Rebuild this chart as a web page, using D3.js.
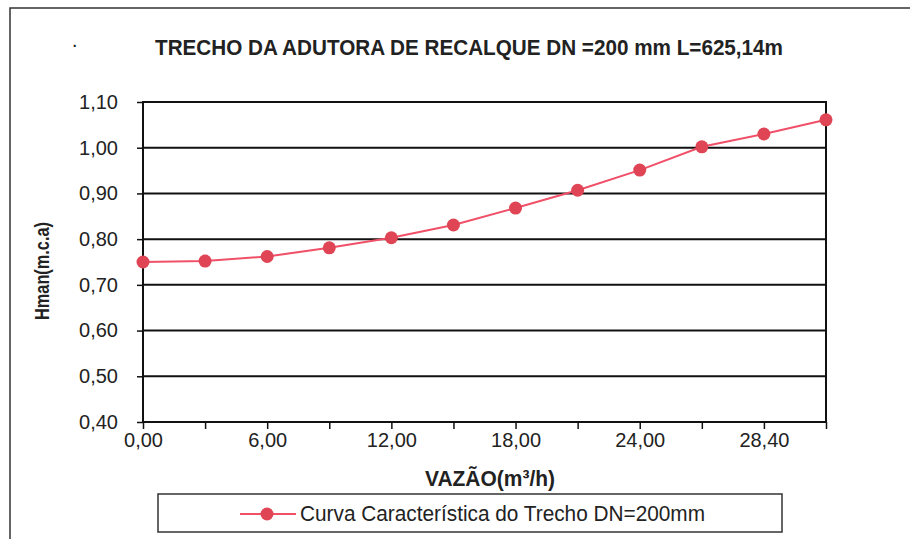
<!DOCTYPE html>
<html>
<head>
  <meta charset="UTF-8">
  <style>
    body { margin: 0; background: #fff; }
    svg { display: block; }
    text { font-family: "Liberation Sans", Arial, sans-serif; fill: #222; }
    .narrow { font-family: "Liberation Sans Narrow", "Arial Narrow", "Liberation Sans", sans-serif; }
  </style>
</head>
<body>
<svg></svg>
<script src="https://d3js.org/d3.v7.min.js"></script>
<script>

// data
let vazao = ["0,00", "3,00", "6,00", "9,00", "12,00", "15,00", "18,00", "21,00", "24,00", "26,20", "28,40", "30,60"];
let hman = [0.750, 0.752, 0.762, 0.781, 0.803, 0.831, 0.868, 0.907, 0.951, 1.002, 1.030, 1.061];
let yTicks = [0.4, 0.5, 0.6, 0.7, 0.8, 0.9, 1.0, 1.1];
let shownLabels = ["0,00", "6,00", "12,00", "18,00", "24,00", "28,40"];

let width = 910, height = 539;
let margin = {left: 143, right: 84, top: 102, bottom: 117};

let svg = d3.select("svg")
    .attr("width", width)
    .attr("height", height);

// outer frame (left and top edges visible)
svg.append("path")
    .attr("d", "M10,539 L10,8 L910,8")
    .attr("fill", "none")
    .attr("stroke", "#333")
    .attr("stroke-width", 1.5);

let x = d3.scalePoint()
    .domain(vazao)
    .range([margin.left, width - margin.right]);

let y = d3.scaleLinear()
    .domain([0.4, 1.1])
    .range([height - margin.bottom, margin.top]);

let fmt = d => d.toFixed(2).replace(".", ",");

// gridlines
svg.append("g")
    .selectAll("line")
    .data(yTicks)
    .enter()
    .append("line")
    .attr("x1", margin.left)
    .attr("x2", width - margin.right)
    .attr("y1", d => y(d))
    .attr("y2", d => y(d))
    .attr("stroke", "#111")
    .attr("stroke-width", 2);

// plot frame
svg.append("rect")
    .attr("x", margin.left)
    .attr("y", margin.top)
    .attr("width", width - margin.right - margin.left)
    .attr("height", height - margin.bottom - margin.top)
    .attr("fill", "none")
    .attr("stroke", "#111")
    .attr("stroke-width", 2);

// y axis
let yAxis = svg.append("g")
    .attr("transform", "translate(" + margin.left + ",0)")
    .call(d3.axisLeft(y).tickValues(yTicks).tickFormat(fmt).tickSize(6).tickPadding(19));
yAxis.select(".domain").remove();
yAxis.selectAll("line").attr("stroke", "#111").attr("stroke-width", 1.5);
yAxis.selectAll("text")
    .style("font-size", "20px")
    .style("font-family", "'Liberation Sans', Arial, sans-serif")
    .attr("fill", "#222");

// x axis
let xAxis = svg.append("g")
    .attr("transform", "translate(0," + (height - margin.bottom) + ")")
    .call(d3.axisBottom(x).tickSize(7).tickPadding(4)
      .tickFormat(d => shownLabels.includes(d) ? d : ""));
xAxis.select(".domain").remove();
xAxis.selectAll("line").attr("stroke", "#111").attr("stroke-width", 1.5);
xAxis.selectAll("text")
    .style("font-size", "20px")
    .style("font-family", "'Liberation Sans', Arial, sans-serif")
    .attr("fill", "#222");

// series
let pts = vazao.map((v, i) => ({v: v, h: hman[i]}));
let line = d3.line().x(d => x(d.v)).y(d => y(d.h));

svg.append("path")
    .datum(pts)
    .attr("d", line)
    .attr("fill", "none")
    .attr("stroke", "#f05068")
    .attr("stroke-width", 2);

svg.append("g")
    .selectAll("circle")
    .data(pts)
    .enter()
    .append("circle")
    .attr("cx", d => x(d.v))
    .attr("cy", d => y(d.h))
    .attr("r", 6.5)
    .attr("fill", "#e04555");

// title
svg.append("text")
    .attr("class", "narrow")
    .attr("x", 469)
    .attr("y", 55)
    .attr("text-anchor", "middle")
    .attr("textLength", 628)
    .attr("lengthAdjust", "spacingAndGlyphs")
    .style("font-size", "22px")
    .style("font-weight", "bold")
    .text("TRECHO DA ADUTORA DE RECALQUE DN =200 mm L=625,14m");

svg.append("text")
    .attr("x", 75)
    .attr("y", 51)
    .attr("text-anchor", "middle")
    .style("font-size", "14px")
    .style("font-weight", "bold")
    .text("·");

// axis titles
svg.append("text")
    .attr("class", "narrow")
    .attr("transform", "translate(49,271) rotate(-90)")
    .attr("text-anchor", "middle")
    .attr("textLength", 98)
    .attr("lengthAdjust", "spacingAndGlyphs")
    .style("font-size", "21px")
    .style("font-weight", "bold")
    .text("Hman(m.c.a)");

svg.append("text")
    .attr("class", "narrow")
    .attr("x", 490)
    .attr("y", 486)
    .attr("text-anchor", "middle")
    .attr("textLength", 130)
    .attr("lengthAdjust", "spacingAndGlyphs")
    .style("font-size", "22px")
    .style("font-weight", "bold")
    .text("VAZÃO(m³/h)");

// legend
let legend = svg.append("g");
legend.append("rect")
    .attr("x", 158)
    .attr("y", 494)
    .attr("width", 624)
    .attr("height", 38)
    .attr("fill", "none")
    .attr("stroke", "#333")
    .attr("stroke-width", 1.5);
legend.append("line")
    .attr("x1", 240).attr("x2", 296)
    .attr("y1", 514).attr("y2", 514)
    .attr("stroke", "#f05068")
    .attr("stroke-width", 2);
legend.append("circle")
    .attr("cx", 267).attr("cy", 514).attr("r", 6.5)
    .attr("fill", "#e04555");
legend.append("text")
    .attr("class", "narrow")
    .attr("x", 300)
    .attr("y", 521)
    .attr("textLength", 405)
    .attr("lengthAdjust", "spacingAndGlyphs")
    .style("font-size", "22px")
    .text("Curva Característica do Trecho DN=200mm");

</script>
</body>
</html>
